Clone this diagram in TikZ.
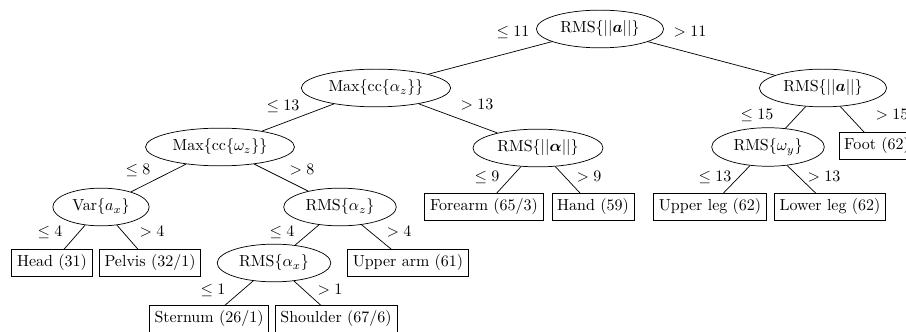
\documentclass[tikz,border=0pt]{standalone}
\usepackage{amsmath,bm}
\usetikzlibrary{shapes.geometric}
\tikzset{
  test/.style={draw, ellipse, inner sep=0.3333em},
  leaf/.style={draw, rectangle, inner sep=0.3333em},
  cond/.style={inner sep=1pt},
  every path/.style={line width=0.45pt}
}
\begin{document}
\begin{tikzpicture}[x=0.625pt, y=-0.625pt]
  \useasboundingbox (0,0) rectangle (906,332);

  % decision nodes
  \node[test] (root)  at (600,29)  {RMS$\{||\bm{a}||\}$};
  \node[test] (maxA)  at (376,88)  {Max$\{$cc$\{\alpha_z\}\}$};
  \node[test] (rmsR)  at (823,88)  {RMS$\{||\bm{a}||\}$};
  \node[test] (maxW)  at (220,147) {Max$\{$cc$\{\omega_z\}\}$};
  \node[test] (rmsAl) at (538,148) {RMS$\{||\bm{\alpha}||\}$};
  \node[test] (rmsWy) at (768,147) {RMS$\{\omega_y\}$};
  \node[test] (varAx) at (101,207) {Var$\{a_x\}$};
  \node[test] (rmsAz) at (340,207) {RMS$\{\alpha_z\}$};
  \node[test] (rmsAx) at (274,263) {RMS$\{\alpha_x\}$};

  % leaves
  \node[leaf] (head)  at (52,263)  {Head (31)};
  \node[leaf] (pelv)  at (150,263) {Pelvis (32/1)};
  \node[leaf] (uarm)  at (408,263) {Upper arm (61)};
  \node[leaf] (stern) at (209,319) {Sternum (26/1)};
  \node[leaf] (shoul) at (336,319) {Shoulder (67/6)};
  \node[leaf] (fore)  at (484,207) {Forearm (65/3)};
  \node[leaf] (hand)  at (593,207) {Hand (59)};
  \node[leaf] (uleg)  at (710,207) {Upper leg (62)};
  \node[leaf] (lleg)  at (830,207) {Lower leg (62)};
  \node[leaf] (foot)  at (877,146) {Foot (62)};

  % branches
  \draw (root) -- (maxA);
  \draw (root) -- (rmsR);
  \draw (maxA) -- (maxW);
  \draw (maxA) -- (rmsAl);
  \draw (rmsR) -- (rmsWy);
  \draw (rmsR) -- (foot);
  \draw (maxW) -- (varAx);
  \draw (maxW) -- (rmsAz);
  \draw (varAx) -- (head);
  \draw (varAx) -- (pelv);
  \draw (rmsAz) -- (rmsAx);
  \draw (rmsAz) -- (uarm);
  \draw (rmsAx) -- (stern);
  \draw (rmsAx) -- (shoul);
  \draw (rmsAl) -- (fore);
  \draw (rmsAl) -- (hand);
  \draw (rmsWy) -- (uleg);
  \draw (rmsWy) -- (lleg);

  % split thresholds
  \node[cond] (c1)  at (513,32)  {$\leq 11$};
  \node[cond] (c2)  at (690,32)  {$> 11$};
  \node[cond] (c3)  at (283,106) {$\leq 13$};
  \node[cond] (c4)  at (477,105) {$> 13$};
  \node[cond] (c5)  at (757,115) {$\leq 15$};
  \node[cond] (c6)  at (892,115) {$> 15$};
  \node[cond] (c7)  at (138,170) {$\leq 8$};
  \node[cond] (c8)  at (302,170) {$> 8$};
  \node[cond] (c9)  at (487,177) {$\leq 9$};
  \node[cond] (c10) at (589,177) {$> 9$};
  \node[cond] (c11) at (715,177) {$\leq 13$};
  \node[cond] (c12) at (824,177) {$> 13$};
  \node[cond] (c13) at (50,232)  {$\leq 4$};
  \node[cond] (c14) at (152,232) {$> 4$};
  \node[cond] (c15) at (282,232) {$\leq 4$};
  \node[cond] (c16) at (399,232) {$> 4$};
  \node[cond] (c17) at (213,290) {$\leq 1$};
  \node[cond] (c18) at (330,290) {$> 1$};
\end{tikzpicture}
\end{document}
